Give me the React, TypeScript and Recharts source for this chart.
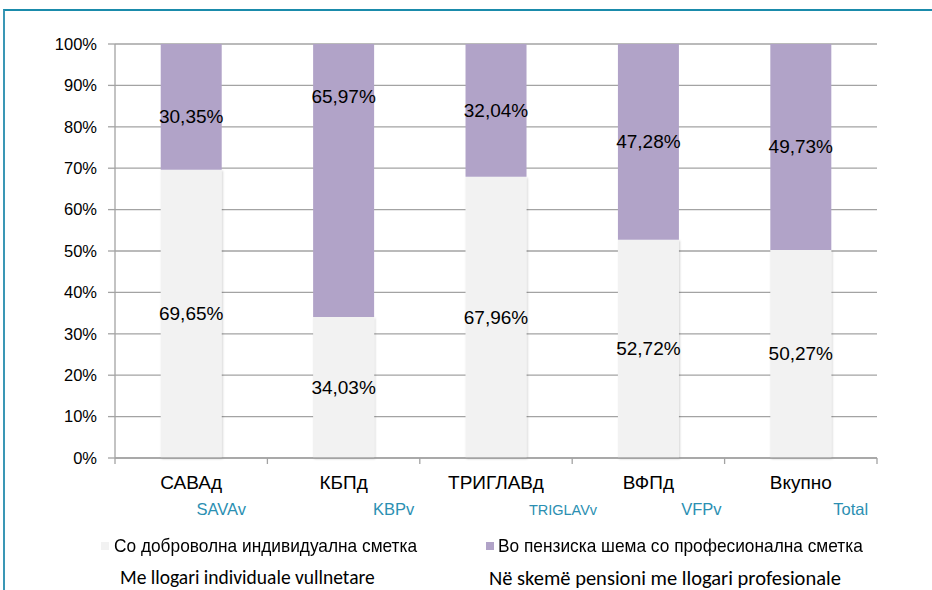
import React from 'react';
import { BarChart, Bar, XAxis, YAxis, CartesianGrid, LabelList, Legend } from 'recharts';

const categories = ['САВАд', 'КБПд', 'ТРИГЛАВд', 'ВФПд', 'Вкупно'];
const subCategories = ['SAVAv', 'KBPv', 'TRIGLAVv', 'VFPv', 'Total'];
const individual = [69.65, 34.03, 67.96, 52.72, 50.27];
const professional = [30.35, 65.97, 32.04, 47.28, 49.73];
const yTicks = [0, 10, 20, 30, 40, 50, 60, 70, 80, 90, 100];

const seriesNames = {
  individual: 'Со доброволна индивидуална сметка',
  professional: 'Во пензиска шема со професионална сметка',
};
const seriesNamesAl = {
  individual: 'Me llogari individuale vullnetare',
  professional: 'Në skemë pensioni me llogari profesionale',
};

const data = categories.map((c, i) => ({
  name: c,
  sub: subCategories[i],
  individual: individual[i],
  professional: professional[i],
}));

// label nudges (text placement only)
const subLabelShift = [30, 50, 67, 53, 50];
const subLabelSize = [16.5, 16.5, 14.5, 16.5, 16.5];
const topLabelShift = [10, -84, 0, 0, 0];

const COLOR_LIGHT = '#f2f2f2';
const COLOR_PURPLE = '#b1a3c8';
const GRID = '#a3a3a3';
const TEAL = '#2b8fb2';
const FONT = "Arial, 'Liberation Sans', sans-serif";

const fmt = (v: number) => v.toFixed(2).replace('.', ',') + '%';

const XTick = (props: any) => {
  const { x, y, payload, index } = props;
  const off = payload.offset ?? 0;
  const last = index === categories.length - 1;
  return (
    <g>
      <line x1={x - off} x2={x - off} y1={y} y2={y + 6} stroke={GRID} strokeWidth={1.3} />
      {last && <line x1={x + off} x2={x + off} y1={y} y2={y + 6} stroke={GRID} strokeWidth={1.3} />}
      <text x={x} y={y + 31} textAnchor="middle" fontSize={19} fill="#000" style={{ fontFamily: FONT }}>
        {payload.value}
      </text>
      <text
        x={x + subLabelShift[index]}
        y={y + 57}
        textAnchor="middle"
        fontSize={subLabelSize[index]}
        fill={TEAL}
        style={{ fontFamily: FONT }}
      >
        {subCategories[index]}
      </text>
    </g>
  );
};

const makeLabel = (shifts: number[] | null) => (props: any) => {
  const { x, y, width, height, value, index } = props;
  const dy = shifts ? shifts[index] : 0;
  return (
    <text
      x={x + width / 2}
      y={y + height / 2 + dy}
      textAnchor="middle"
      dominantBaseline="central"
      fontSize={19}
      fill="#000"
      style={{ fontFamily: FONT }}
    >
      {fmt(value)}
    </text>
  );
};

const narrow: React.CSSProperties = {
  fontSize: 19, lineHeight: '22px', fontFamily: FONT, color: '#000', whiteSpace: 'nowrap',
  transform: 'scaleX(0.91)', transformOrigin: 'left center',
};
const calibri: React.CSSProperties = {
  lineHeight: '20px', fontFamily: "Carlito, Lato, sans-serif", color: '#000', whiteSpace: 'nowrap',
};

const LegendContent = () => (
  <div style={{ position: 'relative', width: 932, height: 62 }}>
    <div style={{ position: 'absolute', left: 101, top: 14, width: 8, height: 8, background: COLOR_LIGHT }} />
    <div style={{ ...narrow, position: 'absolute', left: 114, top: 7 }}>{seriesNames.individual}</div>
    <div style={{ ...calibri, fontSize: 19.5, position: 'absolute', left: 120, top: 39 }}>{seriesNamesAl.individual}</div>
    <div style={{ position: 'absolute', left: 486, top: 14, width: 8, height: 8, background: COLOR_PURPLE }} />
    <div style={{ ...narrow, position: 'absolute', left: 498, top: 7 }}>{seriesNames.professional}</div>
    <div style={{ ...calibri, fontSize: 20.5, position: 'absolute', left: 489, top: 40 }}>{seriesNamesAl.professional}</div>
  </div>
);

export default function App() {
  return (
    <div style={{ position: 'absolute', left: 0, top: 0, width: 932, height: 590, overflow: 'hidden', background: '#fff' }}>
      <div
        style={{
          position: 'absolute', left: 3, top: 9, width: 1000, height: 700,
          borderTop: `2px solid #1a8bab`, borderLeft: `2px solid #3a97b5`,
        }}
      />
      <div style={{ position: 'absolute', left: 0, top: 0 }}>
        <BarChart
          width={932}
          height={590}
          data={data}
          margin={{ top: 44, right: 55, left: 0, bottom: 0 }}
          barCategoryGap="30%"
        >
          <defs>
            <filter id="barShadow" x="-20%" y="-5%" width="140%" height="110%">
              <feDropShadow dx="1" dy="1" stdDeviation="1.2" floodColor="#000" floodOpacity="0.18" />
            </filter>
          </defs>
          <CartesianGrid vertical={false} stroke={GRID} strokeWidth={1.3} />
          <XAxis
            dataKey="name"
            tick={<XTick />}
            tickLine={false}
            tickSize={0}
            tickMargin={0}
            axisLine={{ stroke: GRID, strokeWidth: 1.3 }}
            interval={0}
            height={132}
          />
          <YAxis
            type="number"
            domain={[0, 100]}
            ticks={yTicks}
            tickFormatter={(v: number) => `${v}%`}
            width={115}
            tickSize={7}
            tickMargin={11}
            tick={{ fontSize: 16.5, fill: '#000', style: { fontFamily: FONT } }}
            tickLine={{ stroke: GRID, strokeWidth: 1.3 }}
            axisLine={{ stroke: GRID, strokeWidth: 1.3 }}
          />
          <Legend
            layout="horizontal"
            verticalAlign="middle"
            align="center"
            content={<LegendContent />}
            wrapperStyle={{ position: 'absolute', left: 0, top: 528, width: 932, height: 62 }}
          />
          <Bar
            dataKey="individual"
            name={seriesNames.individual}
            stackId="a"
            fill={COLOR_LIGHT}
            filter="url(#barShadow)"
            isAnimationActive={false}
          >
            <LabelList dataKey="individual" content={makeLabel(null)} />
          </Bar>
          <Bar
            dataKey="professional"
            name={seriesNames.professional}
            stackId="a"
            fill={COLOR_PURPLE}
            isAnimationActive={false}
          >
            <LabelList dataKey="professional" content={makeLabel(topLabelShift)} />
          </Bar>
        </BarChart>
      </div>
    </div>
  );
}
